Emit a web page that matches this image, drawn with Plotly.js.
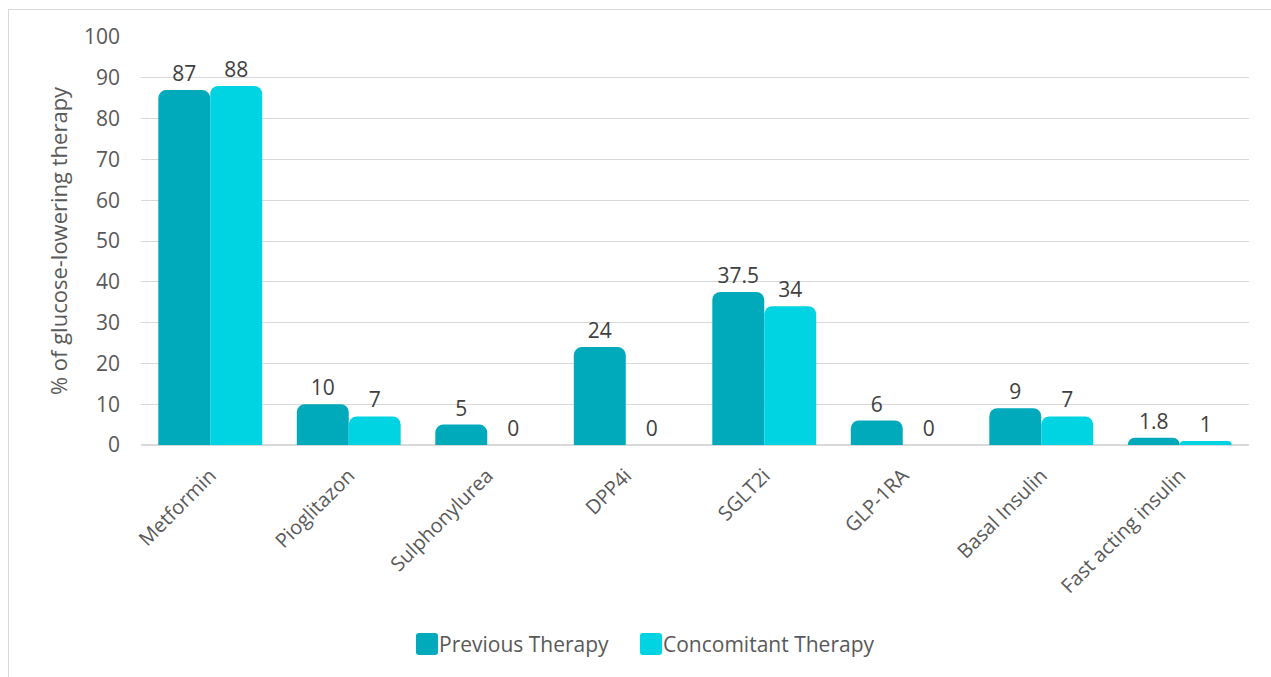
<!DOCTYPE html>
<html>
<head>
<meta charset="utf-8">
<script src="https://cdn.plot.ly/plotly-3.0.1.min.js"></script>
<style>
  html, body { margin: 0; padding: 0; background: #ffffff; }
  #wrap { position: relative; width: 1271px; height: 677px; overflow: hidden; }
  #chart { width: 1271px; height: 677px; }
  #frame { position: absolute; left: 8px; top: 9px; width: 1300px; height: 700px;
           border: 1px solid #d9d9d9; pointer-events: none; box-sizing: border-box; }
</style>
</head>
<body>
<div id="wrap">
  <div id="chart"></div>
  <div id="frame"></div>
</div>
<script>
// Glucose-lowering drug classes
const categories = ["Metformin", "Pioglitazon", "Sulphonylurea", "DPP4i", "SGLT2i",
                    "GLP-1RA", "Basal Insulin", "Fast acting insulin"];
// Share of patients (%) per therapy phase
const previousTherapy = [87, 10, 5, 24, 37.5, 6, 9, 1.8];
const concomitantTherapy = [88, 7, 0, 0, 34, 0, 7, 1];
const seriesNames = ["Previous Therapy", "Concomitant Therapy"];
const yTicks = [0, 10, 20, 30, 40, 50, 60, 70, 80, 90, 100];

const colors = ["#00aabb", "#00d3e1"];
const fontFamily = "'Open Sans', 'Noto Sans', sans-serif";
const textColor = "#404040";
const tickColor = "#595959";

function series(name, values, color) {
  return {
    type: "bar",
    name: name,
    x: categories,
    y: values,
    text: values.map(v => String(v)),
    textposition: "outside",
    cliponaxis: false,
    textfont: { family: fontFamily, size: 21, color: textColor },
    marker: { color: color, cornerradius: 8, line: { width: 0 } },
    hoverinfo: "x+y",
    showlegend: false
  };
}

const data = [
  series(seriesNames[0], previousTherapy, colors[0]),
  series(seriesNames[1], concomitantTherapy, colors[1])
];

// Legend drawn below the axis: rounded square swatches with labels
const legendY = -0.488;
const legendItems = [
  { swatchX: 0.2581, textX: 0.2675 },
  { swatchX: 0.4603, textX: 0.4695 }
];
const swatchPath = "M -8,-11 L 8,-11 Q 11,-11 11,-8 L 11,8 Q 11,11 8,11 L -8,11 " +
                   "Q -11,11 -11,8 L -11,-8 Q -11,-11 -8,-11 Z";
const legendShapes = legendItems.map((item, i) => ({
  type: "path",
  xref: "paper", yref: "paper",
  xsizemode: "pixel", ysizemode: "pixel",
  xanchor: item.swatchX, yanchor: legendY,
  path: swatchPath,
  fillcolor: colors[i],
  line: { width: 0 }
}));
const legendLabels = legendItems.map((item, i) => ({
  xref: "paper", yref: "paper",
  x: item.textX, y: legendY,
  xanchor: "left", yanchor: "middle",
  text: seriesNames[i],
  showarrow: false,
  font: { family: fontFamily, size: 21, color: tickColor }
}));

const layout = {
  width: 1271,
  height: 677,
  margin: { l: 141, r: 22, t: 37, b: 232 },
  paper_bgcolor: "#ffffff",
  plot_bgcolor: "#ffffff",
  font: { family: fontFamily, color: tickColor },
  barmode: "group",
  bargap: 0.25,
  bargroupgap: 0,
  showlegend: false,
  shapes: legendShapes,
  annotations: legendLabels,
  xaxis: {
    type: "category",
    tickangle: -45,
    tickfont: { family: fontFamily, size: 20, color: tickColor },
    ticklabelstandoff: 14,
    showgrid: false,
    showline: false,
    ticks: "",
    fixedrange: true
  },
  yaxis: {
    range: [0, 100],
    tickvals: yTicks,
    ticktext: yTicks.map(String),
    tickfont: { family: fontFamily, size: 21, color: tickColor },
    ticklabelstandoff: 20,
    showgrid: true,
    gridcolor: "#d9d9d9",
    gridwidth: 1,
    zeroline: true,
    zerolinecolor: "#d9d9d9",
    zerolinewidth: 2,
    showline: false,
    ticks: "",
    automargin: false,
    title: {
      text: "% of glucose-lowering therapy",
      font: { family: fontFamily, size: 22, color: tickColor },
      standoff: 10
    },
    fixedrange: true
  }
};

Plotly.newPlot("chart", data, layout, { displayModeBar: false, staticPlot: true });
</script>
</body>
</html>
